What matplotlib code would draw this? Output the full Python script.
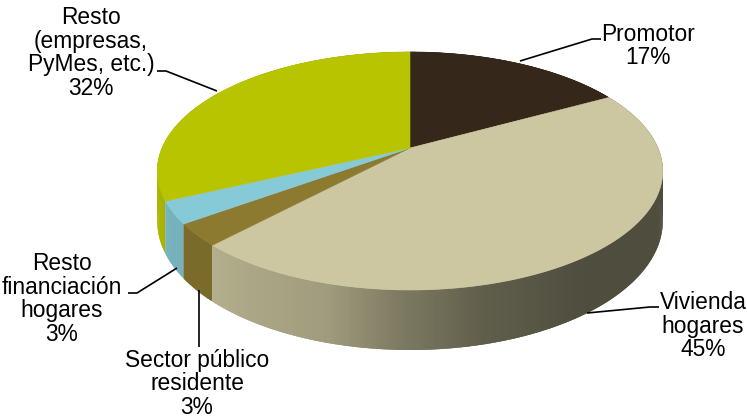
import numpy as np
import matplotlib
matplotlib.use("Agg")
import matplotlib.pyplot as plt
from matplotlib.patches import Polygon
from matplotlib.colors import to_rgb

# Credit breakdown (share of total, %), clockwise from 12 o'clock
labels = ["Promotor", "Vivienda\nhogares", "Sector público\nresidente",
          "Resto\nfinanciación\nhogares", "Resto\n(empresas,\nPyMes, etc.)"]
shares = [17, 45, 3, 3, 32]
colors = ["#35271A", "#CCC7A0", "#8B7A30", "#86CAD8", "#B9C400"]

# label placement (pixel centres) and leader-line paths
label_pos = [(648, 46), (703, 326), (197, 384), (62, 299), (91, 53)]
leaders = [
    [(520, 61), (592, 39), (601, 39)],
    [(587, 313), (650, 307), (659, 307)],
    [(199, 290), (199, 347)],
    [(177, 268), (137, 293), (128, 293)],
    [(217, 91), (166, 71), (157, 71)],
]

fig = plt.figure(figsize=(7.47, 4.2), dpi=100)
ax = fig.add_axes([0, 0, 1, 1])
ax.set_xlim(0, 747)
ax.set_ylim(420, 0)
ax.axis("off")

# perspective disc: centre, semi-axes, perspective factor, wall height
XC, YC = 410.0, 148.0
A, B, K = 248.0, 114.6, 0.193
H = 48.4


def project(theta_deg, drop=0.0):
    t = np.radians(theta_deg)
    u, w = np.sin(t), np.cos(t)
    s = 1 + K * w
    return XC + A * u / s, YC - B * w / s + drop / s


def shade(theta):
    return np.interp(theta, [0, 90, 145, 166, 180, 195, 223, 240, 255, 275, 360],
                     [0.6, 0.38, 0.39, 0.47, 0.6, 0.78, 0.88, 0.88, 0.94, 0.94, 0.7])


total = float(sum(shares))
bounds = np.concatenate([[0], np.cumsum(shares)]) * 360.0 / total

# side walls, drawn back to front in thin strips
quads = []
step = 0.5
for i, col in enumerate(colors):
    a0, a1 = bounds[i], bounds[i + 1]
    n = max(2, int(np.ceil((a1 - a0) / step)))
    th = np.linspace(a0, a1, n + 1)
    base = np.array(to_rgb(col))
    for t0, t1 in zip(th[:-1], th[1:]):
        t1e = min(t1 + 0.6, a1)
        x0, y0 = project(t0)
        x1, y1 = project(t1e)
        x0b, y0b = project(t0, H)
        x1b, y1b = project(t1e, H)
        tm = 0.5 * (t0 + t1)
        depth = np.cos(np.radians(tm))
        c = np.clip(base * shade(tm), 0, 1)
        quads.append((depth, [(x0, y0), (x1, y1), (x1b, y1b), (x0b, y0b)], c))
quads.sort(key=lambda q: -q[0])
for _, pts, c in quads:
    ax.add_patch(Polygon(pts, closed=True, facecolor=c, edgecolor="none",
                         linewidth=0, antialiased=True))

# top faces
for i, col in enumerate(colors):
    a0, a1 = bounds[i], bounds[i + 1]
    th = np.linspace(a0, a1, max(3, int((a1 - a0) * 2)))
    xs, ys = project(th)
    pts = [(XC, YC)] + list(zip(xs, ys))
    ax.add_patch(Polygon(pts, closed=True, facecolor=col, edgecolor=col,
                         linewidth=0.4, antialiased=True))

# labels with leader lines
for lab, val, (lx, ly), path in zip(labels, shares, label_pos, leaders):
    ax.text(lx, ly, f"{lab}\n{val}%", ha="center", va="center",
            fontsize=16.4, family="Liberation Sans", color="black",
            linespacing=1.04)
    px, py = zip(*path)
    ax.plot(px, py, color="black", lw=1.2, solid_capstyle="butt")

fig.savefig("out.png", dpi=100)
